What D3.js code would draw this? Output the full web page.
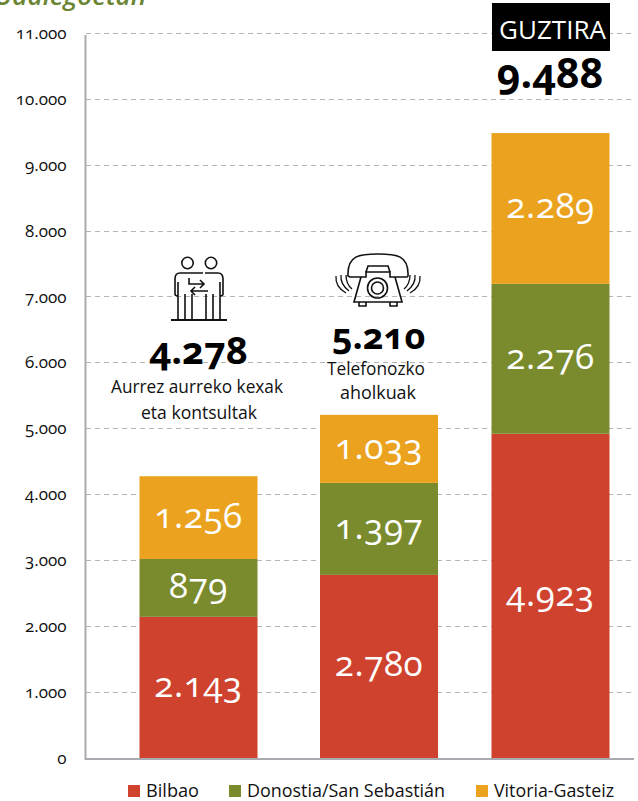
<!DOCTYPE html>
<html><head><meta charset="utf-8">
<script src="https://cdnjs.cloudflare.com/ajax/libs/d3/7.8.5/d3.min.js"></script>
<style>
html,body{margin:0;padding:0;background:#fff}
svg{display:block}
text{font-family:"Open Sans","Noto Sans",sans-serif;font-feature-settings:"onum" 1;font-variant-numeric:oldstyle-nums}
</style></head><body>
<svg id="c" width="638" height="801"></svg>
<script>
const categories=["Aurrez aurreko kexak eta kontsultak","Telefonozko aholkuak","Guztira"];
const seriesNames=["Bilbao","Donostia/San Sebastián","Vitoria-Gasteiz"];
const bilbao=[2143,2780,4923];
const donostia=[879,1397,2276];
const vitoria=[1256,1033,2289];
const totals=[4278,5210,9488];
const yTicks=[0,1000,2000,3000,4000,5000,6000,7000,8000,9000,10000,11000];
const colors=["#cf432e","#7a8b2e","#eaa21f"];
const barCenters=[198.5,379,550.5];
const fmt=v=>String(v).replace(/\B(?=(\d{3})+$)/g,".");

const svg=d3.select("#c");
const y=d3.scaleLinear().domain([0,11000]).range([758,33.5]);
const x=d3.scaleOrdinal().domain(categories).range(barCenters);
const barW=118;

svg.append("text").text("Udalegoetan").attr("x",146).attr("y",4.5).attr("text-anchor","end")
 .attr("font-size",26).attr("font-weight",600).attr("font-style","italic").attr("fill","#6b8432");

// grid
svg.append("g").selectAll("line").data(yTicks.slice(1)).join("line")
 .attr("x1",86).attr("x2",634).attr("y1",d=>Math.floor(y(d))+.5).attr("y2",d=>Math.floor(y(d))+.5)
 .attr("stroke","#b5b5b5").attr("stroke-width",1).attr("stroke-dasharray","5 4");
// axis
const ax=svg.append("g").attr("transform","translate(85.5,0)").call(d3.axisLeft(y).tickValues(yTicks).tickFormat(fmt).tickSize(0).tickPadding(16));
ax.select(".domain").remove();
ax.selectAll("text").attr("font-size",17).attr("font-weight",500).attr("fill","#111").attr("dy","0.3em").attr("x",-19).style("font-family",'"Open Sans",sans-serif');
svg.append("line").attr("x1",85.5).attr("x2",85.5).attr("y1",35).attr("y2",760).attr("stroke","#a7abb0").attr("stroke-width",2);
svg.append("line").attr("x1",85).attr("x2",634).attr("y1",759).attr("y2",759).attr("stroke","#a7abb0").attr("stroke-width",2);

// bars
const rows=categories.map((c,i)=>({c,Bilbao:bilbao[i],[seriesNames[1]]:donostia[i],[seriesNames[2]]:vitoria[i]}));
const stacked=d3.stack().keys(seriesNames)(rows);
const gs=svg.append("g").selectAll("g").data(stacked).join("g").attr("fill",(d,i)=>colors[i]);
gs.selectAll("rect").data(d=>d).join("rect")
 .attr("x",d=>x(d.data.c)-barW/2).attr("width",barW)
 .attr("y",d=>y(d[1])).attr("height",d=>y(d[0])-y(d[1]));
gs.selectAll("text").data(d=>d).join("text")
 .attr("x",d=>x(d.data.c)).attr("y",d=>(y(d[0])+y(d[1]))/2+10)
 .attr("text-anchor","middle").attr("fill","#fff").attr("font-size",35).attr("font-weight",400).attr("letter-spacing",0.6)
 .text(d=>fmt(d[1]-d[0]));

// totals
const big=(t,xx,yy,fs)=>svg.append("text").text(t).attr("x",xx).attr("y",yy).attr("text-anchor","middle").attr("font-size",fs).attr("font-weight",700).attr("fill","#000");
big(fmt(totals[0]),198.5,364,38);
big(fmt(totals[1]),378.5,349,36);
big(fmt(totals[2]),550,88,41);

const lab=(t,xx,yy,w)=>svg.append("text").text(t).attr("x",xx).attr("y",yy).attr("text-anchor","middle").attr("font-size",19).attr("fill","#111").attr("textLength",w).attr("lengthAdjust","spacingAndGlyphs");
lab("Aurrez aurreko kexak",197,393,172);
lab("eta kontsultak",199,419,116);
lab("Telefonozko",376,375,98);
lab("aholkuak",378,399,76);

// guztira
svg.append("rect").attr("x",492).attr("y",3).attr("width",118).attr("height",48).attr("fill","#000");
svg.append("text").text("GUZTIRA").attr("x",552.5).attr("y",39).attr("text-anchor","middle").attr("font-size",26).attr("fill","#fff");

// icon people
const p=svg.append("g").attr("fill","none").attr("stroke","#111").attr("stroke-width",1.6);
[187.5,211].forEach(cx=>p.append("circle").attr("cx",cx).attr("cy",263).attr("r",5.7));
p.append("path").attr("d","M193 273H180Q175 273 175 279V294Q175 296 178 296V293M178 282V319M185 294V319M192 294V319M206 294V319M213 294V319M220 282V319M193 273M205 273H218Q223 273 223 279V294Q223 296 220 296V293");
p.append("path").attr("d","M189 278V284H204M200 280L204 284L200 288M208 291H191M195 287L191 291L195 295M193 273H203");
p.append("path").attr("d","M171 320H227").attr("stroke-width",2);
// icon phone
const t=svg.append("g").attr("fill","none").attr("stroke","#111").attr("stroke-width",1.6);
t.append("path").attr("d","M348 276C347 255 360 254 378 254C396 254 409 255 408 276L407 277H390V272H366V277H350Z");
t.append("path").attr("d","M366 272L368 266H388L390 272M361 277L354 302H402L395 277");
t.append("path").attr("d","M359 302V306H366V302M390 302V306H397V302");
t.append("circle").attr("cx",377.5).attr("cy",288).attr("r",10);
t.append("circle").attr("cx",377.5).attr("cy",288).attr("r",6);
t.append("path").attr("d","M346 275Q346 284 352 289M341 275Q340 284 349 291M336 276Q335 287 346 293M410 275Q410 284 404 289M415 275Q416 284 407 291M420 276Q421 287 410 293").attr("stroke-width",1.3);

// legend
const lx=[128,229,476];
const lw=[53,198,120];
const lg=svg.append("g").selectAll("g").data(seriesNames).join("g").attr("transform",(d,i)=>`translate(${lx[i]},0)`);
lg.append("rect").attr("y",785).attr("width",12).attr("height",12).attr("fill",(d,i)=>colors[i]);
lg.append("text").attr("x",18).attr("y",797).attr("font-size",19).attr("fill","#111").attr("textLength",(d,i)=>lw[i]).attr("lengthAdjust","spacingAndGlyphs").text(d=>d);
</script>
</body></html>
